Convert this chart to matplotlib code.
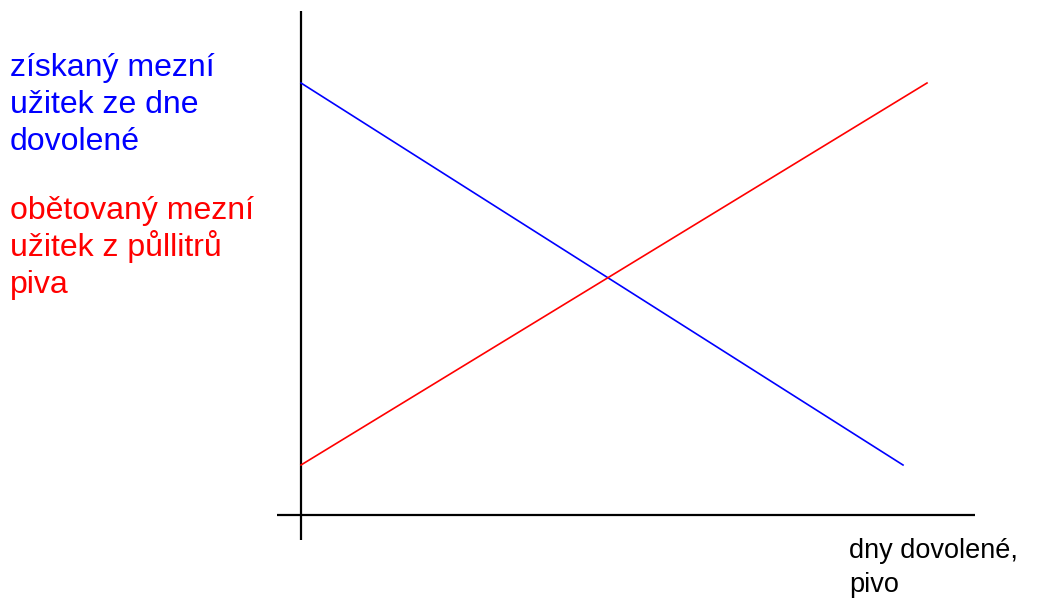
import matplotlib
matplotlib.use("Agg")
import matplotlib.pyplot as plt

plt.rcParams['font.family'] = ['Liberation Sans', 'DejaVu Sans']

# quantity axis (days of holiday / beer) and marginal utility, arbitrary units
blue_x = [0.0, 6.02]
blue_y = [4.32, 0.50]
red_x = [0.0, 6.26]
red_y = [0.50, 4.32]

axis_x = [-0.24, 6.74]
axis_y = [-0.25, 5.04]

blue_label = ["získaný mezní", "užitek ze dne", "dovolené"]
red_label = ["obětovaný mezní", "užitek z půllitrů", "piva"]
x_label = ["dny dovolené,", "pivo"]

fig = plt.figure(figsize=(10.49, 6.02), dpi=100)
ax = fig.add_axes([0, 0, 1, 1])
ax.set_xlim(-3.01, 7.48)
ax.set_ylim(-0.87, 5.15)
ax.axis('off')

# axes drawn as plain lines crossing a little past the origin
ax.plot(axis_x, [0, 0], color='black', lw=1.6, solid_capstyle='butt')
ax.plot([0, 0], axis_y, color='black', lw=1.6, solid_capstyle='butt')

ax.plot(blue_x, blue_y, color='#0000ff', lw=1.2)
ax.plot(red_x, red_y, color='#ff0000', lw=1.2)


def block(x, y0, lines, color, size, step):
    # one text per line so that accents don't change the spacing
    for i, s in enumerate(lines):
        ax.text(x, y0 - i * step, s, color=color, fontsize=size,
                va='baseline', ha='left')


block(-2.91, 4.393, blue_label, '#0000ff', 23, 0.37)
block(-2.91, 2.96, red_label, '#ff0000', 23, 0.37)
block(5.48, -0.43, x_label, 'black', 19.5, 0.34)

fig.savefig("out.png", dpi=100)
